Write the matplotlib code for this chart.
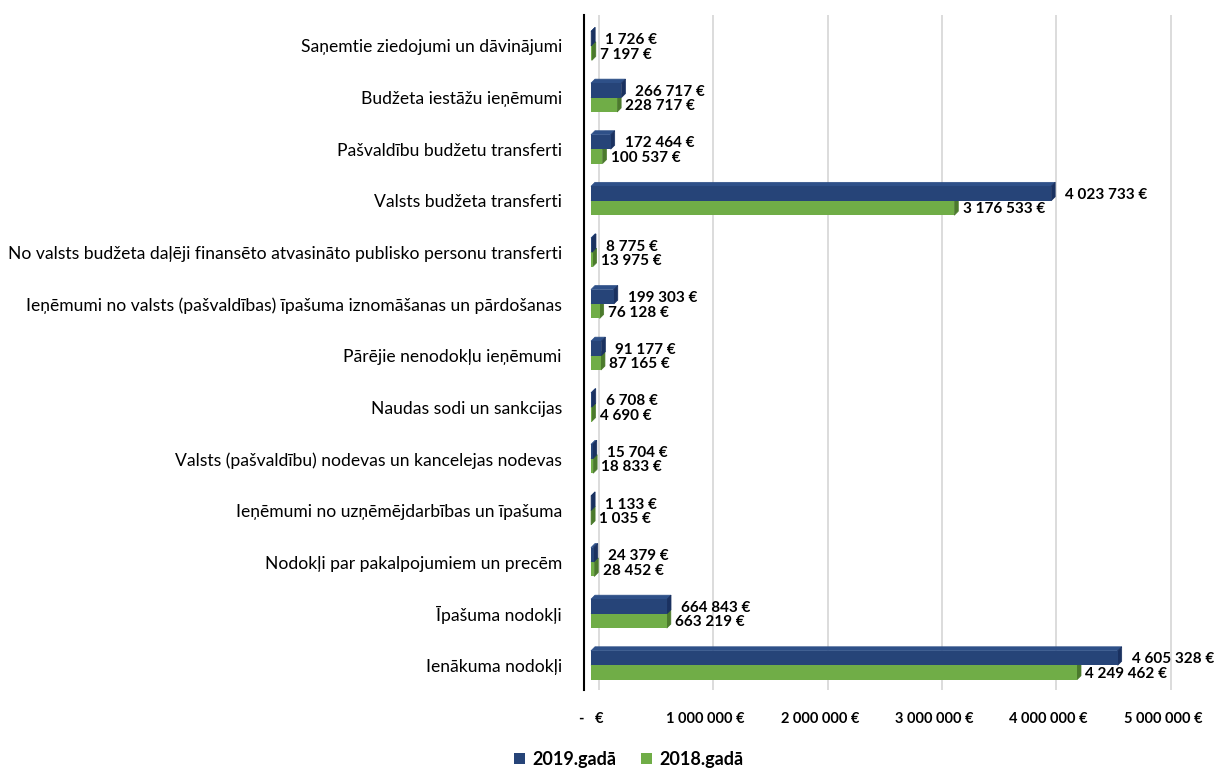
import numpy as np
import matplotlib.pyplot as plt
import matplotlib.transforms as mtransforms
from matplotlib.patches import Polygon

categories = [
    "Saņemtie ziedojumi un dāvinājumi",
    "Budžeta iestāžu ieņēmumi",
    "Pašvaldību budžetu transferti",
    "Valsts budžeta transferti",
    "No valsts budžeta daļēji finansēto atvasināto publisko personu transferti",
    "Ieņēmumi no valsts (pašvaldības) īpašuma iznomāšanas un pārdošanas",
    "Pārējie nenodokļu ieņēmumi",
    "Naudas sodi un sankcijas",
    "Valsts (pašvaldību) nodevas un kancelejas nodevas",
    "Ieņēmumi no uzņēmējdarbības un īpašuma",
    "Nodokļi par pakalpojumiem un precēm",
    "Īpašuma nodokļi",
    "Ienākuma nodokļi",
]
v2019 = [1726, 266717, 172464, 4023733, 8775, 199303, 91177, 6708, 15704, 1133, 24379, 664843, 4605328]
v2018 = [7197, 228717, 100537, 3176533, 13975, 76128, 87165, 4690, 18833, 1035, 28452, 663219, 4249462]
ticks = [0, 1000000, 2000000, 3000000, 4000000, 5000000]
series_names = ["2019.gadā", "2018.gadā"]

# front, top, side colours
blue = ("#264478", "#2e5088", "#1a3160")
green = ("#70ad47", "#7fba56", "#4b7a2c")


def eur(v):
    if v == 0:
        return "-   €"
    return f"{v:,}".replace(",", " ") + " €"


plt.rcParams['font.family'] = ['Lato', 'DejaVu Sans']

fig = plt.figure(figsize=(12.14, 7.69), dpi=100)
ax_px = [584, 79, 596, 675]  # left, bottom, width, height in pixels
ax = fig.add_axes([ax_px[0] / 1214, ax_px[1] / 769, ax_px[2] / 1214, ax_px[3] / 769])

xmin, xmax = -61000, 5150000
ymin, ymax = 12.48, -0.6
ax.set_xlim(xmin, xmax)
ax.set_ylim(ymin, ymax)

# depth of the 3d faces (4 px) in data units
dx = 4 * (xmax - xmin) / ax_px[2]
dy = 4 * (ymin - ymax) / ax_px[3]

y = np.arange(len(categories))
h = 0.28
off = 0.14


def bar3d(vals, pos, cols, z, label):
    bars = ax.barh(pos, vals, height=h, color=cols[0], zorder=z + 1, label=label)
    for v, p in zip(vals, pos):
        top = p - h / 2
        bot = p + h / 2
        ax.add_patch(Polygon([(0, top), (v, top), (v + dx, top - dy), (dx, top - dy)],
                             closed=True, facecolor=cols[1], edgecolor=cols[1], lw=0.5, zorder=z))
        ax.add_patch(Polygon([(v, top), (v + dx, top - dy), (v + dx, bot - dy), (v, bot)],
                             closed=True, facecolor=cols[2], edgecolor=cols[2], lw=0.5, zorder=z))
    return bars


b18 = bar3d(v2018, y + off, green, 2, series_names[1])
b19 = bar3d(v2019, y - off, blue, 4, series_names[0])

for i in range(len(categories)):
    ax.annotate(eur(v2019[i]), (v2019[i], y[i] - off), xytext=(10, -1), textcoords="offset points",
                va="center", ha="left", fontsize=11, fontweight="bold")
    ax.annotate(eur(v2018[i]), (v2018[i], y[i] + off), xytext=(6, -1), textcoords="offset points",
                va="center", ha="left", fontsize=11, fontweight="bold")

ax.set_xticks(ticks)
ax.set_xticklabels([eur(t) for t in ticks], fontsize=10.5, fontweight="bold")
ax.set_yticks(y)
ax.set_yticklabels(categories, fontsize=12.6)
ax.tick_params(axis="both", length=0)
ax.tick_params(axis="x", pad=16)
ax.tick_params(axis="y", pad=16)
ax.grid(axis="x", color="#d9d9d9", linewidth=1.3, zorder=0)
ax.set_axisbelow(True)
# gridlines sit on the back wall of the 3d chart
back = mtransforms.ScaledTranslation(8 / 100, 0, fig.dpi_scale_trans)
for gl in ax.get_xgridlines():
    gl.set_transform(gl.get_transform() + back)
for s in ["top", "right", "bottom"]:
    ax.spines[s].set_visible(False)
ax.spines["left"].set_linewidth(1.5)

fig.legend([b19, b18], series_names, loc="lower center", bbox_to_anchor=(0.518, -0.02), ncol=2,
           frameon=False, prop={"size": 13, "weight": "bold"}, handlelength=0.6, handleheight=0.6,
           columnspacing=1.4, handletextpad=0.4)

fig.savefig("out.png", dpi=100)
